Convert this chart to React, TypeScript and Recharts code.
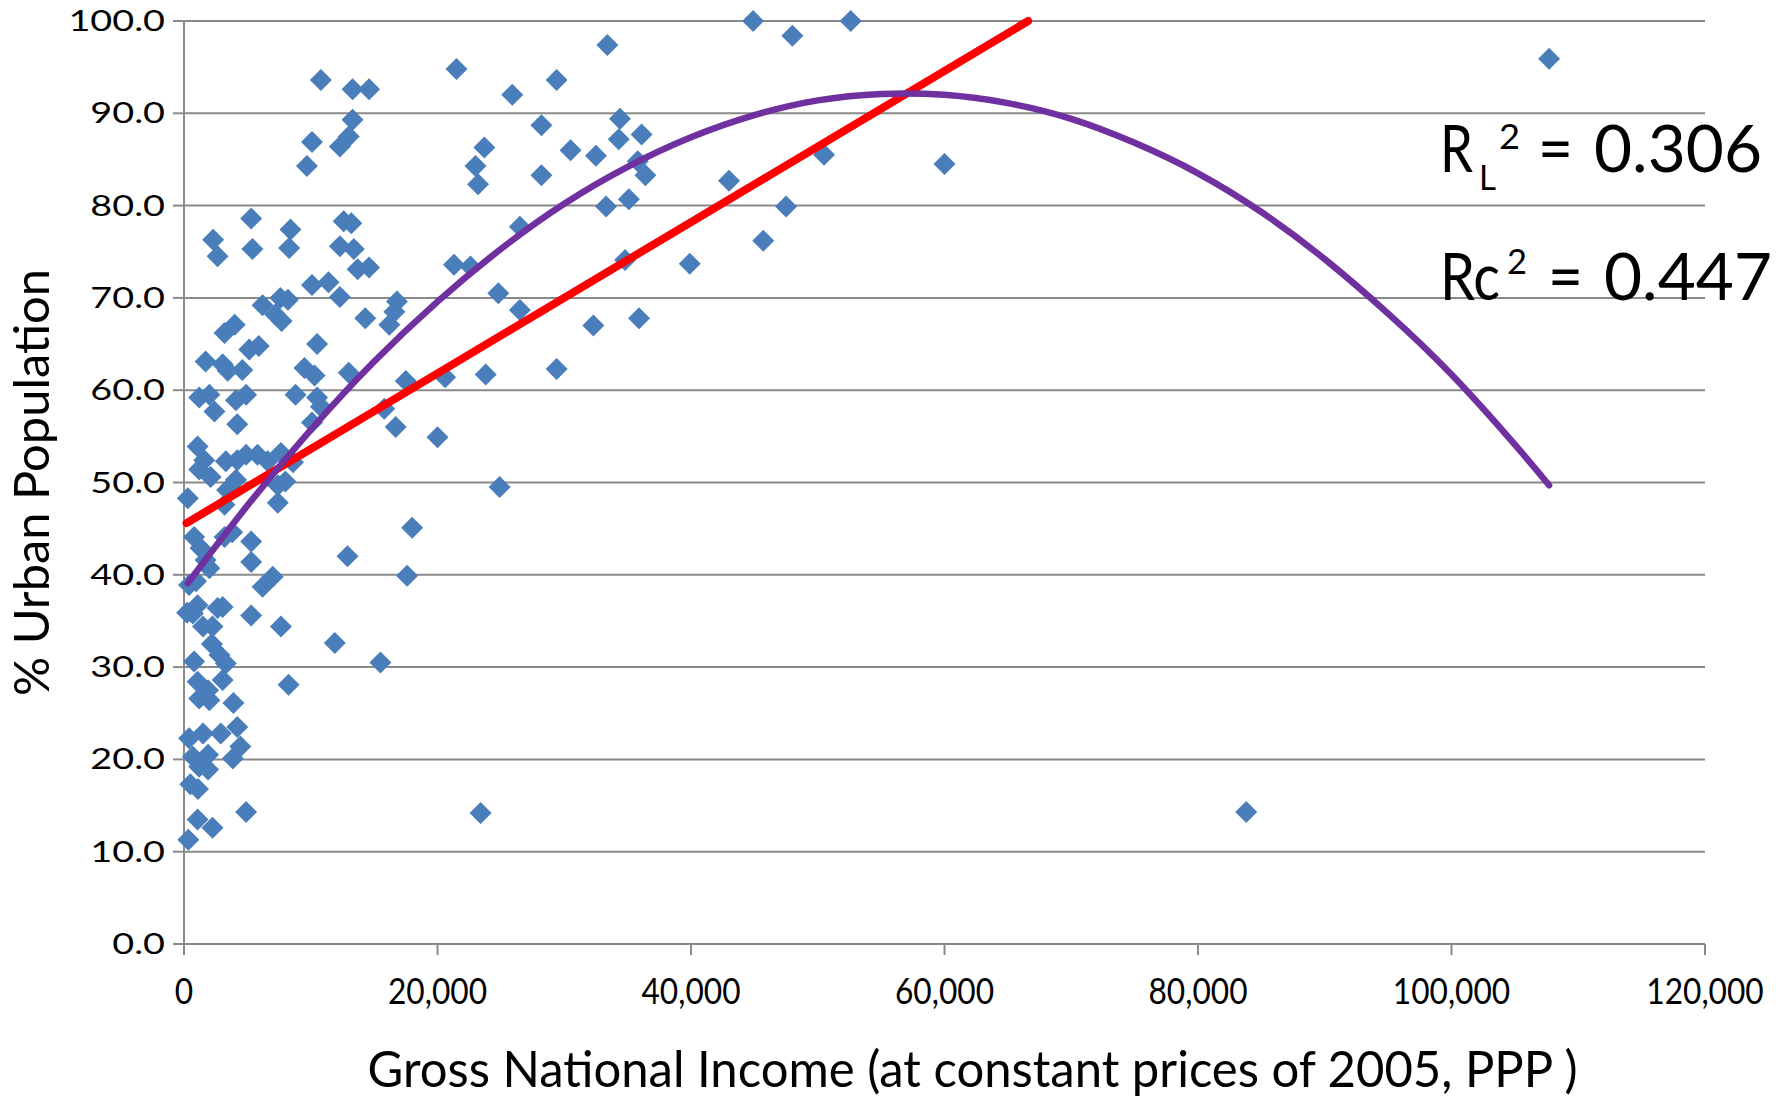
import { ScatterChart, Scatter, XAxis, YAxis, CartesianGrid } from "recharts";

// axis ticks
const xTicks = [0, 20000, 40000, 60000, 80000, 100000, 120000];
const yTicks = [0, 10, 20, 30, 40, 50, 60, 70, 80, 90, 100];

// GNI per capita (2005 PPP $), one entry per country
const gni = [
  44900, 52600, 48000, 33400, 107700, 21500, 10800, 13300, 14600, 29400,
  25900, 13300, 34400, 28200, 13000, 12300, 10100, 9700, 23700, 23000,
  23200, 30500, 32500, 34300, 36100, 35800, 36400, 28200, 43000, 50500,
  60000, 35100, 33300, 47500, 45700, 26500, 12600, 13200, 5300, 2300,
  2650, 8400, 5400, 8300, 12300, 13400, 13700, 14600, 21300, 22600,
  34800, 39900, 10100, 11400, 12300, 24800, 6200, 7600, 8200, 16800,
  16600, 26500, 16200, 14300, 7200, 7700, 4000, 3200, 35900, 32300,
  10500, 5150, 5900, 1700, 3050, 3450, 4600, 9500, 10300, 13000,
  29400, 20600, 23800, 17500, 1200, 2000, 2400, 4100, 4900, 4200,
  8800, 10500, 10800, 10100, 15800, 16700, 20000, 1070, 1600, 1200,
  2100, 3300, 4200, 4900, 5800, 6600, 7650, 8600, 4100, 3400,
  7400, 8000, 7400, 300, 3200, 24900, 800, 1300, 1700, 2000,
  3200, 3800, 5300, 5300, 18000, 400, 950, 7000, 6200, 12900,
  17600, 240, 1070, 700, 2650, 3050, 1500, 2250, 5300, 7650,
  2200, 11900, 15500, 800, 3300, 2800, 1070, 1900, 1200, 2000,
  3050, 3900, 8250, 400, 1500, 2900, 4200, 4450, 3850, 700,
  1900, 1200, 1900, 500, 1100, 1070, 2250, 4900, 340, 23400,
  83800,
];

// % urban population, same order as gni
const urban = [
  100, 100, 98.4, 97.4, 95.9, 94.8, 93.6, 92.6, 92.6, 93.6,
  92.0, 89.3, 89.4, 88.7, 87.5, 86.4, 86.9, 84.3, 86.3, 84.3,
  82.3, 86.0, 85.4, 87.2, 87.7, 84.8, 83.3, 83.3, 82.7, 85.5,
  84.5, 80.7, 79.9, 79.9, 76.2, 77.7, 78.3, 78.1, 78.6, 76.3,
  74.5, 77.4, 75.3, 75.4, 75.6, 75.3, 73.1, 73.3, 73.6, 73.4,
  74.1, 73.7, 71.4, 71.7, 70.1, 70.5, 69.2, 70.0, 69.8, 69.6,
  68.5, 68.7, 67.1, 67.8, 68.2, 67.5, 67.1, 66.2, 67.8, 67.0,
  65.0, 64.4, 64.8, 63.1, 62.8, 62.1, 62.2, 62.4, 61.6, 61.9,
  62.3, 61.4, 61.7, 61.0, 59.2, 59.5, 57.7, 58.9, 59.5, 56.3,
  59.5, 59.2, 58.2, 56.5, 58.0, 56.0, 54.9, 53.9, 52.4, 51.4,
  50.6, 52.3, 52.4, 53.0, 53.0, 52.3, 53.2, 52.2, 50.3, 49.2,
  49.7, 50.1, 47.8, 48.3, 47.6, 49.5, 44.1, 42.9, 41.6, 40.7,
  44.1, 44.6, 43.6, 41.4, 45.1, 38.9, 39.3, 39.8, 38.7, 42.0,
  39.9, 35.9, 36.7, 35.8, 36.4, 36.5, 34.4, 34.4, 35.6, 34.4,
  32.5, 32.6, 30.5, 30.6, 30.4, 31.3, 28.4, 27.5, 26.6, 26.4,
  28.6, 26.1, 28.1, 22.3, 22.8, 22.8, 23.5, 21.4, 20.1, 20.3,
  20.5, 19.2, 18.9, 17.3, 16.8, 13.5, 12.6, 14.3, 11.3, 14.2,
  14.3,
];

// linear trend
const linearX = [200, 66600];
const linearY = [45.6, 100];

// quadratic trend
const quadX = [
  300, 5000, 10000, 15000, 20000, 25000, 30000, 35000, 40000, 45000, 50000, 55000,
  60000, 65000, 70000, 75000, 80000, 85000, 90000, 95000, 100000, 105000, 107700,
];
const quadY = [
  39.1, 47.5, 55.7, 63.1, 69.6, 75.3, 80.2, 84.2, 87.4, 89.8, 91.4, 92.1,
  92.0, 91.1, 89.4, 86.8, 83.5, 79.3, 74.2, 68.3, 61.7, 54.1, 49.7,
];

const points = gni.map((x, i) => ({ x, y: urban[i] }));
const linearData = linearX.map((x, i) => ({ x, y: linearY[i] }));
const quadData = quadX.map((x, i) => ({ x, y: quadY[i] }));

const GRID = "#8a8a8a";
const FONT = "Lato, 'Open Sans', sans-serif";

// rotated-square marker like Excel's
const Diamond = (props: any) => {
  const { cx, cy } = props;
  if (cx == null || cy == null) return <g />;
  const r = 11;
  return (
    <path
      d={`M${cx},${cy - r} L${cx + r},${cy} L${cx},${cy + r} L${cx - r},${cy} Z`}
      fill="#4A7EBB"
    />
  );
};

const NoDot = () => <g />;

const YTick = (props: any) => {
  const { x, y, payload } = props;
  return (
    <text
      transform={`translate(${x},${y}) scale(1.35,1)`}
      textAnchor="end"
      dy="0.36em"
      fontFamily={FONT}
      fontSize={28}
      fill="#000"
    >
      {Number(payload.value).toFixed(1)}
    </text>
  );
};

const XTick = (props: any) => {
  const { x, y, payload } = props;
  return (
    <text
      transform={`translate(${x},${y}) scale(0.88,1)`}
      textAnchor="middle"
      dy="0.72em"
      fontFamily={FONT}
      fontSize={36}
      fill="#000"
    >
      {Number(payload.value).toLocaleString("en-US")}
    </text>
  );
};

export default function App() {
  return (
    <div style={{ position: "absolute", left: 0, top: 0, width: 1787, height: 1099, background: "#fff" }}>
      <ScatterChart width={1787} height={1099} margin={{ top: 21, right: 82, bottom: 0, left: 0 }}>
        <CartesianGrid vertical={false} stroke={GRID} strokeWidth={2} />
        <XAxis
          type="number"
          dataKey="x"
          domain={[0, 120000]}
          ticks={xTicks}
          height={155}
          tickSize={11}
          tickMargin={23}
          axisLine={{ stroke: GRID, strokeWidth: 2 }}
          tickLine={{ stroke: GRID, strokeWidth: 2 }}
          tick={<XTick />}
          label={{
            content: (p: any) => {
              const vb = p.viewBox || { x: 184, y: 944, width: 1521 };
              return (
                <text
                  x={vb.x + vb.width / 2 + 28}
                  y={vb.y + 143}
                  textAnchor="middle"
                  fontFamily={FONT}
                  fontSize={51}
                  textLength={1210}
                  lengthAdjust="spacingAndGlyphs"
                  fill="#000"
                >
                  Gross National Income (at constant prices of 2005, PPP )
                </text>
              );
            },
          }}
        />
        <YAxis
          type="number"
          dataKey="y"
          domain={[0, 100]}
          ticks={yTicks}
          width={184}
          tickSize={11}
          tickMargin={8}
          axisLine={{ stroke: GRID, strokeWidth: 2 }}
          tickLine={{ stroke: GRID, strokeWidth: 2 }}
          tick={<YTick />}
          label={{
            content: (p: any) => {
              const vb = p.viewBox || { x: 0, y: 21, height: 923 };
              const cx = 49;
              const cy = vb.y + vb.height / 2;
              return (
                <text
                  x={cx}
                  y={cy}
                  transform={`rotate(-90 ${cx} ${cy})`}
                  textAnchor="middle"
                  fontFamily={FONT}
                  fontSize={48}
                  textLength={427}
                  lengthAdjust="spacingAndGlyphs"
                  fill="#000"
                >
                  % Urban Population
                </text>
              );
            },
          }}
        />
        <Scatter data={points} shape={<Diamond />} isAnimationActive={false} />
        <Scatter
          data={linearData}
          shape={<NoDot />}
          line={{ stroke: "#FF0000", strokeWidth: 8, strokeLinecap: "round" }}
          isAnimationActive={false}
        />
        <Scatter
          data={quadData}
          shape={<NoDot />}
          line={{ stroke: "#7030A0", strokeWidth: 6.5, strokeLinecap: "round", fill: "none" }}
          lineJointType="natural"
          isAnimationActive={false}
        />
      </ScatterChart>

      {/* R² annotations */}
      <svg
        width={1787}
        height={1099}
        style={{ position: "absolute", left: 0, top: 0, pointerEvents: "none" }}
        fontFamily={FONT}
        fill="#000"
      >
        <text x={1440} y={172} fontSize={65} textLength={33} lengthAdjust="spacingAndGlyphs">R</text>
        <text x={1479} y={190} fontSize={35} textLength={17} lengthAdjust="spacingAndGlyphs">L</text>
        <text x={1499} y={149} fontSize={34} textLength={21} lengthAdjust="spacingAndGlyphs">2</text>
        <text x={1538} y={172} fontSize={65} textLength={35} lengthAdjust="spacingAndGlyphs">=</text>
        <text x={1594} y={172} fontSize={65} textLength={168} lengthAdjust="spacingAndGlyphs">0.306</text>

        <text x={1440} y={300} fontSize={65} textLength={60} lengthAdjust="spacingAndGlyphs">Rc</text>
        <text x={1507} y={274} fontSize={34} textLength={20} lengthAdjust="spacingAndGlyphs">2</text>
        <text x={1548} y={300} fontSize={65} textLength={35} lengthAdjust="spacingAndGlyphs">=</text>
        <text x={1604} y={300} fontSize={65} textLength={168} lengthAdjust="spacingAndGlyphs">0.447</text>
      </svg>
    </div>
  );
}
